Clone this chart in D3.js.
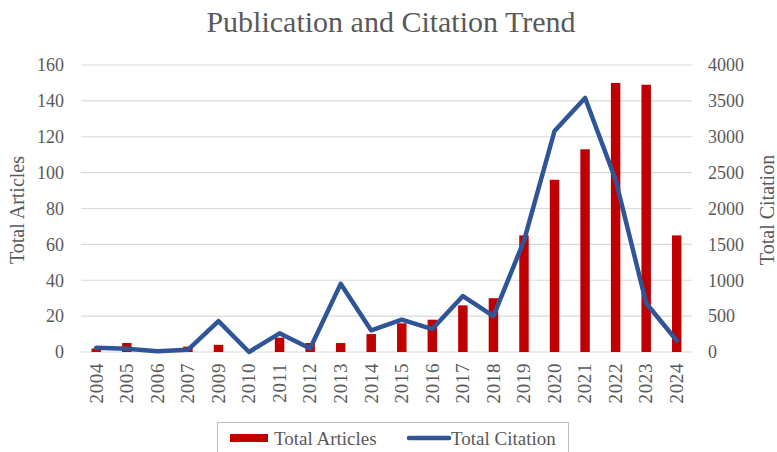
<!DOCTYPE html>
<html>
<head>
<meta charset="utf-8">
<script src="https://cdn.jsdelivr.net/npm/d3@7"></script>
<style>
  html, body { margin: 0; padding: 0; background: #fff; }
  svg { display: block; }
</style>
</head>
<body>
<script>
const years = ["2004","2005","2006","2007","2009","2010","2011","2012","2013","2014","2015","2016","2017","2018","2019","2020","2021","2022","2023","2024"];
const totalArticles = [2,5,1,3,4,0,8,5,5,10,16,18,26,30,65,96,113,150,149,65];
const totalCitation = [60,45,10,30,430,0,260,50,950,300,450,320,780,500,1550,3080,3540,2400,680,160];
const leftTicks = [0,20,40,60,80,100,120,140,160];
const rightTicks = [0,500,1000,1500,2000,2500,3000,3500,4000];

const W = 777, H = 452;
const font = "'Liberation Serif', 'DejaVu Serif', serif";
const m = { left: 81, right: 85, top: 65, bottom: 100 };
const svg = d3.select("body").append("svg").attr("width", W).attr("height", H);

const x = d3.scaleBand().domain(years).range([m.left, W - m.right]).paddingInner(0.69).paddingOuter(0.345);
const xc = d3.scaleBand().domain(years).range([m.left, W - m.right]);
const yL = d3.scaleLinear().domain([0,160]).range([352, 65]);
const yR = d3.scaleLinear().domain([0,4000]).range([352, 65]);

// gridlines
svg.append("g").selectAll("line").data(leftTicks).join("line")
  .attr("x1", m.left).attr("x2", W - m.right)
  .attr("y1", d => yL(d)).attr("y2", d => yL(d))
  .attr("stroke", "#d9d9d9").attr("stroke-width", 1.2);

// title
svg.append("text").attr("x", 391).attr("y", 32).attr("text-anchor", "middle")
  .attr("font-family", font).attr("font-size", 30).attr("fill", "#595959")
  .text("Publication and Citation Trend");

// left axis
const gL = svg.append("g").attr("transform", `translate(${m.left},0)`)
  .call(d3.axisLeft(yL).tickValues(leftTicks).tickSize(0).tickPadding(17));
gL.select(".domain").remove();
gL.selectAll("text").attr("font-family", font).attr("font-size", 18).attr("fill", "#595959");

// right axis
const gR = svg.append("g").attr("transform", `translate(${W - m.right},0)`)
  .call(d3.axisRight(yR).tickValues(rightTicks).tickFormat(d3.format("d")).tickSize(0).tickPadding(16));
gR.select(".domain").remove();
gR.selectAll("text").attr("font-family", font).attr("font-size", 18).attr("fill", "#595959");

// x axis
const gX = svg.append("g").attr("transform", `translate(0,352)`)
  .call(d3.axisBottom(xc).tickSize(0).tickPadding(0));
gX.select(".domain").remove();
gX.selectAll("text")
  .attr("font-family", font).attr("font-size", 19).attr("fill", "#595959")
  .attr("letter-spacing", 0.6)
  .attr("transform", "rotate(-90)")
  .attr("text-anchor", "end").attr("dx", "-11").attr("dy", "0.33em").attr("y", 0).attr("x", 0);

// axis titles
svg.append("text").attr("transform", "translate(24,210) rotate(-90)").attr("text-anchor", "middle")
  .attr("font-family", font).attr("font-size", 20).attr("fill", "#595959").text("Total Articles");
svg.append("text").attr("transform", "translate(774,210) rotate(-90)").attr("text-anchor", "middle")
  .attr("font-family", font).attr("font-size", 20).attr("fill", "#595959").text("Total Citation");

// bars
svg.append("g").selectAll("rect").data(years).join("rect")
  .attr("x", d => x(d)).attr("width", x.bandwidth())
  .attr("y", (d,i) => yL(totalArticles[i]))
  .attr("height", (d,i) => yL(0) - yL(totalArticles[i]))
  .attr("fill", "#c00000");

// line
const line = d3.line().x((d,i) => xc(years[i]) + xc.bandwidth()/2).y(d => yR(d));
svg.append("path").datum(totalCitation).attr("d", line)
  .attr("fill", "none").attr("stroke", "#2f5597").attr("stroke-width", 4.5)
  .attr("stroke-linejoin", "round").attr("stroke-linecap", "round");

// legend
const lg = svg.append("g");
lg.append("rect").attr("x", 217.5).attr("y", 422.5).attr("width", 351).attr("height", 40)
  .attr("fill", "#fff").attr("stroke", "#bfbfbf").attr("stroke-width", 1);
lg.append("rect").attr("x", 230).attr("y", 434).attr("width", 38).attr("height", 8).attr("fill", "#c00000");
lg.append("text").attr("x", 274).attr("y", 445).attr("font-family", font).attr("font-size", 19)
  .attr("fill", "#595959").text("Total Articles");
lg.append("line").attr("x1", 409).attr("x2", 449).attr("y1", 438).attr("y2", 438)
  .attr("stroke", "#2f5597").attr("stroke-width", 4.5).attr("stroke-linecap", "round");
lg.append("text").attr("x", 451).attr("y", 445).attr("font-family", font).attr("font-size", 19)
  .attr("fill", "#595959").text("Total Citation");
</script>
</body>
</html>
